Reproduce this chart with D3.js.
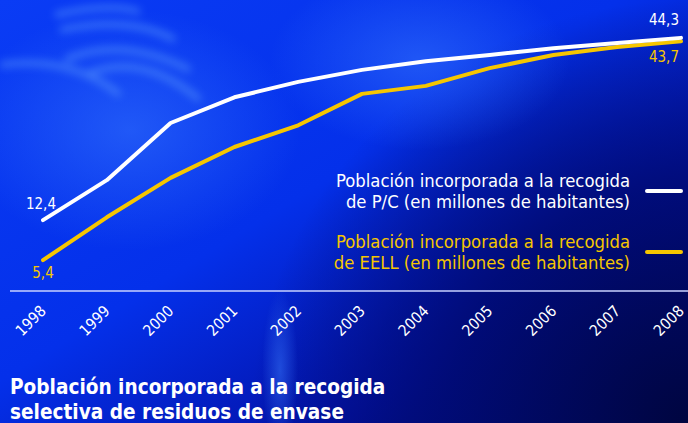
<!DOCTYPE html>
<html>
<head>
<meta charset="utf-8">
<script src="https://cdn.jsdelivr.net/npm/d3@7"></script>
<style>
  html, body { margin: 0; padding: 0; background: #001070; }
  svg { display: block; }
  text { font-family: "DejaVu Sans Condensed", "DejaVu Sans", sans-serif; }
</style>
</head>
<body>
<div id="chart"></div>
<script>
// data
var years = ["1998", "1999", "2000", "2001", "2002", "2003", "2004", "2005", "2006", "2007", "2008"];
var poblacionPC = [12.4, 19.4, 29.4, 33.9, 36.6, 38.7, 40.2, 41.3, 42.5, 43.4, 44.3];
var poblacionEELL = [5.4, 12.9, 19.8, 25.2, 29.0, 34.5, 35.9, 39.0, 41.3, 42.7, 43.7];
var seriesNames = [
  ["Población incorporada a la recogida", "de P/C (en millones de habitantes)"],
  ["Población incorporada a la recogida", "de EELL (en millones de habitantes)"]
];
var titleLines = ["Población incorporada a la recogida", "selectiva de residuos de envase"];

var width = 688, height = 423;
var white = "#ffffff", yellow = "#f6c600";

var svg = d3.select("#chart").append("svg")
  .attr("width", width)
  .attr("height", height);

// background
var defs = svg.append("defs");
var lin = defs.append("linearGradient").attr("id", "bg").attr("x1", 0).attr("y1", 0).attr("x2", 1).attr("y2", 1);
lin.append("stop").attr("offset", "0%").attr("stop-color", "#0a3cf5");
lin.append("stop").attr("offset", "45%").attr("stop-color", "#0430ea");
lin.append("stop").attr("offset", "75%").attr("stop-color", "#0312a8");
lin.append("stop").attr("offset", "100%").attr("stop-color", "#010650");

var glow = defs.append("radialGradient").attr("id", "glow");
glow.append("stop").attr("offset", "0%").attr("stop-color", "#3a7bff").attr("stop-opacity", 0.5);
glow.append("stop").attr("offset", "100%").attr("stop-color", "#3a7bff").attr("stop-opacity", 0);

var dark = defs.append("radialGradient").attr("id", "dark").attr("cx", 1).attr("cy", 1).attr("r", 1);
dark.append("stop").attr("offset", "0%").attr("stop-color", "#000540").attr("stop-opacity", 1);
dark.append("stop").attr("offset", "55%").attr("stop-color", "#000a70").attr("stop-opacity", 0.85);
dark.append("stop").attr("offset", "100%").attr("stop-color", "#000a70").attr("stop-opacity", 0);

defs.append("filter").attr("id", "blur").append("feGaussianBlur").attr("stdDeviation", 4);

svg.append("rect").attr("width", width).attr("height", height).attr("fill", "url(#bg)");
svg.append("rect").attr("x", 250).attr("y", 0).attr("width", 438).attr("height", 423).attr("fill", "url(#dark)");
svg.append("ellipse").attr("cx", 130).attr("cy", 130).attr("rx", 170).attr("ry", 120).attr("fill", "url(#glow)");
svg.append("ellipse").attr("cx", 420).attr("cy", 60).attr("rx", 150).attr("ry", 90).attr("fill", "url(#glow)");
svg.append("ellipse").attr("cx", 280).attr("cy", 370).attr("rx", 18).attr("ry", 80).attr("fill", "url(#glow)");

// soft light streaks, top left (decoration only)
var streaks = ["M55,15 Q110,2 140,12", "M60,30 Q130,15 175,40", "M65,60 Q120,35 190,70",
               "M0,65 Q70,55 120,95", "M85,75 Q140,50 200,100"];
svg.append("g").attr("filter", "url(#blur)").attr("opacity", 0.45)
  .selectAll("path").data(streaks).enter().append("path")
  .attr("d", function(d) { return d; })
  .attr("fill", "none").attr("stroke", "#6fb0ff").attr("stroke-width", 6);

// scales
var x = d3.scalePoint().domain(years).range([43, 681]);
var y = d3.scaleLinear().domain([0, 50]).range([291, 5.3]);

// axis baseline
svg.append("line")
  .attr("x1", 10).attr("x2", width)
  .attr("y1", y(0)).attr("y2", y(0))
  .attr("stroke", "#c9d2ff").attr("stroke-width", 1.5);

// year labels
svg.append("g").selectAll("text")
  .data(years)
  .enter().append("text")
  .attr("transform", function(d) { return "translate(" + (x(d) + 4) + "," + 312 + ") rotate(-45)"; })
  .attr("text-anchor", "end")
  .attr("fill", white)
  .attr("font-size", 15.5)
  .text(function(d) { return d; });

// lines
var line = d3.line()
  .x(function(d, i) { return x(years[i]); })
  .y(function(d) { return y(d); });

[[poblacionEELL, yellow], [poblacionPC, white]].forEach(function(s) {
  svg.append("path")
    .attr("d", line(s[0]))
    .attr("fill", "none")
    .attr("stroke", s[1])
    .attr("stroke-width", 4)
    .attr("stroke-linejoin", "round")
    .attr("stroke-linecap", "round");
});

// value labels at start and end
var fmt = function(v) { return String(v).replace(".", ","); };
var last = years.length - 1;
svg.append("text").attr("x", 56).attr("y", y(poblacionPC[0]) - 11)
  .attr("text-anchor", "end").attr("fill", white).attr("font-size", 15).text(fmt(poblacionPC[0]));
svg.append("text").attr("x", 43).attr("y", y(poblacionEELL[0]) + 18)
  .attr("text-anchor", "middle").attr("fill", yellow).attr("font-size", 15).text(fmt(poblacionEELL[0]));
svg.append("text").attr("x", 679).attr("y", y(poblacionPC[last]) - 13)
  .attr("text-anchor", "end").attr("fill", white).attr("font-size", 15).text(fmt(poblacionPC[last]));
svg.append("text").attr("x", 679).attr("y", y(poblacionEELL[last]) + 21)
  .attr("text-anchor", "end").attr("fill", yellow).attr("font-size", 15).text(fmt(poblacionEELL[last]));

// legend
var legend = svg.append("g");
[[white, 187, 191], [yellow, 248, 252]].forEach(function(c, i) {
  legend.append("text")
    .attr("x", 630).attr("y", c[1])
    .attr("text-anchor", "end").attr("fill", c[0]).attr("font-size", 18.3)
    .selectAll("tspan").data(seriesNames[i]).enter().append("tspan")
    .attr("x", 630).attr("dy", function(d, j) { return j ? 21 : 0; })
    .text(function(d) { return d; });
  legend.append("line")
    .attr("x1", 647).attr("x2", 681).attr("y1", c[2]).attr("y2", c[2])
    .attr("stroke", c[0]).attr("stroke-width", 4).attr("stroke-linecap", "round");
});

// title
svg.append("text")
  .attr("x", 10).attr("y", 394)
  .attr("fill", white).attr("font-size", 20.6).attr("font-weight", "bold")
  .selectAll("tspan").data(titleLines).enter().append("tspan")
  .attr("x", 10).attr("dy", function(d, i) { return i ? 25 : 0; })
  .text(function(d) { return d; });
</script>
</body>
</html>
